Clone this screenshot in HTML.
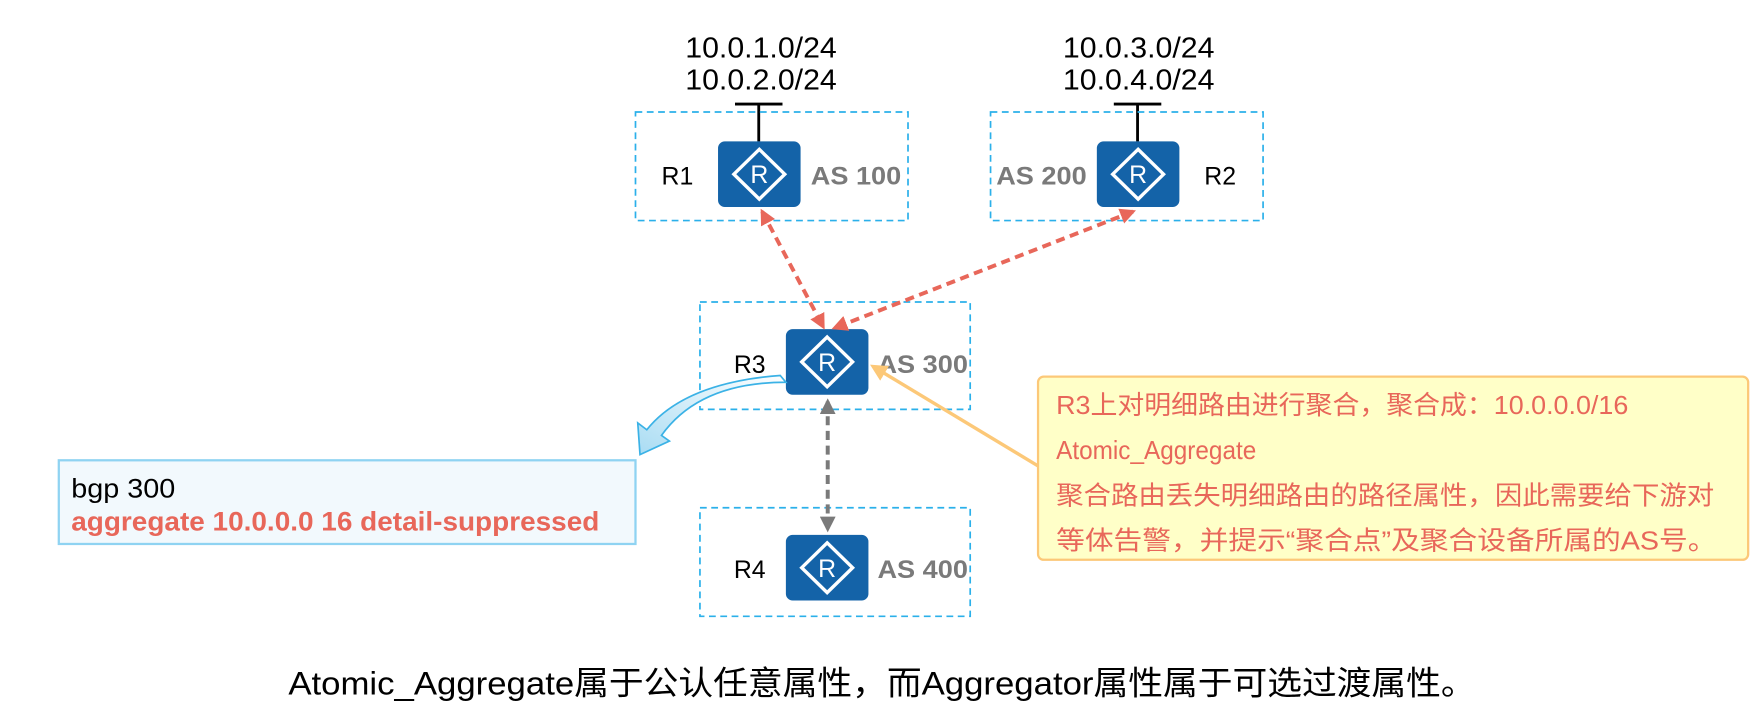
<!DOCTYPE html>
<html><head><meta charset="utf-8"><style>
html,body{margin:0;padding:0;background:#fff;}
svg{display:block;}
text{font-family:"Liberation Sans","Noto Sans CJK SC",sans-serif;}
</style></head><body>
<svg width="1764" height="708" viewBox="0 0 1560 626" xmlns="http://www.w3.org/2000/svg">
<defs>
<g id="rt">
<rect x="0" y="0" width="73" height="58" rx="6" fill="#1463a8"/>
<polygon points="36.5,7 59,29 36.5,51 14,29" fill="none" stroke="#fff" stroke-width="3"/>
<text x="36.5" y="37" font-size="22" fill="#fff" text-anchor="middle">R</text>
</g>
<marker id="ar" viewBox="0 0 10 10" refX="8" refY="5" markerWidth="4" markerHeight="4" orient="auto-start-reverse"><path d="M0,0 L10,5 L0,10 z" fill="#e8675a"/></marker>
<marker id="ag" viewBox="0 0 10 10" refX="8" refY="5" markerWidth="4" markerHeight="4" orient="auto-start-reverse"><path d="M0,0 L10,5 L0,10 z" fill="#7a7a7a"/></marker>
<marker id="ay" viewBox="0 0 10 10" refX="8" refY="5" markerWidth="5" markerHeight="5" orient="auto"><path d="M0,0 L10,5 L0,10 z" fill="#fcc878"/></marker>
<linearGradient id="bg" x1="1" y1="0" x2="0" y2="1"><stop offset="0" stop-color="#ffffff"/><stop offset="1" stop-color="#a9dcf3"/></linearGradient>
</defs>

<g font-size="25" text-anchor="middle" fill="#000">
<text x="673" y="51" textLength="134" lengthAdjust="spacingAndGlyphs">10.0.1.0/24</text>
<text x="673" y="79" textLength="134" lengthAdjust="spacingAndGlyphs">10.0.2.0/24</text>
<text x="1007" y="51" textLength="134" lengthAdjust="spacingAndGlyphs">10.0.3.0/24</text>
<text x="1007" y="79" textLength="134" lengthAdjust="spacingAndGlyphs">10.0.4.0/24</text>
</g>
<g stroke="#000" stroke-width="2.5">
<line x1="650" y1="92" x2="692" y2="92"/><line x1="671" y1="92" x2="671" y2="125"/>
<line x1="985" y1="92" x2="1027" y2="92"/><line x1="1006" y1="92" x2="1006" y2="125"/>
</g>

<g fill="none" stroke="#2bb0ea" stroke-width="1.5" stroke-dasharray="6,4">
<rect x="562" y="99" width="241" height="96"/>
<rect x="876" y="99" width="241" height="96"/>
<rect x="619" y="267" width="239" height="95"/>
<rect x="619" y="449" width="239" height="96"/>
</g>

<use href="#rt" x="635" y="125"/>
<use href="#rt" x="970" y="125"/>
<use href="#rt" x="695" y="291"/>
<use href="#rt" x="695" y="473"/>

<g font-size="22" fill="#000">
<text x="585" y="163">R1</text>
<text x="1065" y="163">R2</text>
<text x="649" y="330">R3</text>
<text x="649" y="511">R4</text>
</g>
<g font-size="22" fill="#7a7a7a" font-weight="bold">
<text x="717" y="163" textLength="80" lengthAdjust="spacingAndGlyphs">AS 100</text>
<text x="881" y="163" textLength="80" lengthAdjust="spacingAndGlyphs">AS 200</text>
<text x="776" y="330" textLength="80" lengthAdjust="spacingAndGlyphs">AS 300</text>
<text x="776" y="511" textLength="80" lengthAdjust="spacingAndGlyphs">AS 400</text>
</g>

<g stroke="#e8675a" stroke-width="3.5" stroke-dasharray="8,5" fill="none">
<line x1="674" y1="187" x2="728" y2="289" marker-start="url(#ar)" marker-end="url(#ar)"/>
<line x1="1002" y1="187" x2="738" y2="290" marker-start="url(#ar)" marker-end="url(#ar)"/>
</g>
<line x1="732" y1="355" x2="732" y2="468" stroke="#7a7a7a" stroke-width="3.5" stroke-dasharray="8,5" marker-start="url(#ag)" marker-end="url(#ag)"/>

<line x1="918" y1="412" x2="772" y2="324" stroke="#fcc878" stroke-width="3" marker-end="url(#ay)"/>

<path d="M695,338 C650,338 610,350 585,385 L592,390 L566,402 L564,374 L572,380 C600,345 650,335 690,332 Z" fill="url(#bg)" stroke="#3bb2e6" stroke-width="1.5"/>

<rect x="52" y="407" width="510" height="74" fill="#f2f9fd" stroke="#8fd3f2" stroke-width="2"/>
<text x="63" y="440" font-size="24" fill="#000" textLength="92" lengthAdjust="spacingAndGlyphs">bgp 300</text>
<text x="63" y="469" font-size="24" fill="#e8675a" font-weight="bold" textLength="467" lengthAdjust="spacingAndGlyphs">aggregate 10.0.0.0 16 detail-suppressed</text>

<rect x="918" y="333" width="628" height="162" rx="5" fill="#ffffc8" stroke="#fcc878" stroke-width="2"/>
<g font-size="23" fill="#e8675a">
<text x="934" y="366" textLength="506" lengthAdjust="spacingAndGlyphs">R3上对明细路由进行聚合，聚合成：10.0.0.0/16</text>
<text x="934" y="406" textLength="177" lengthAdjust="spacingAndGlyphs">Atomic_Aggregate</text>
<text x="934" y="446" textLength="582" lengthAdjust="spacingAndGlyphs">聚合路由丢失明细路由的路径属性，因此需要给下游对</text>
<text x="934" y="486" textLength="584" lengthAdjust="spacingAndGlyphs">等体告警，并提示“聚合点”及聚合设备所属的AS号。</text>
</g>

<text x="780" y="614" font-size="29" text-anchor="middle" fill="#000" textLength="1050" lengthAdjust="spacingAndGlyphs">Atomic_Aggregate属于公认任意属性，而Aggregator属性属于可选过渡属性。</text>
</svg>
</body></html>
